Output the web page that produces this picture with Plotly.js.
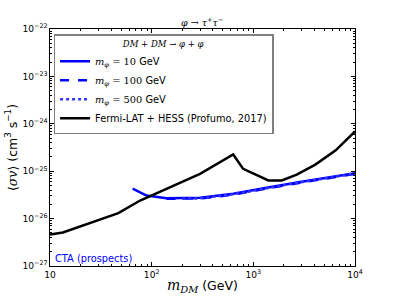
<!DOCTYPE html>
<html>
<head>
<meta charset="utf-8">
<script src="https://cdn.plot.ly/plotly-3.0.1.min.js"></script>
<style>html,body{margin:0;padding:0;background:#fff}#chart{width:395px;height:296px}</style>
</head>
<body>
<div id="chart"></div>
<script>
// Fermi-LAT + HESS (Profumo, 2017)
const fermiMass = [10, 13.4, 47, 77, 299, 634, 794, 1000, 1406, 1905, 2673, 4074, 6457, 10000];
const fermiSigv = [4.6e-27, 5.1e-27, 1.3e-26, 2.41e-26, 8.8e-26, 2.25e-25, 1.12e-25, 8.8e-26, 6.37e-26, 6.37e-26, 8.5e-26, 1.38e-25, 2.75e-25, 6.9e-25];
// m_phi = 10 GeV
const m10Mass = [65, 89, 140, 200, 300, 634, 1000, 1349, 2884, 5000, 10000];
const m10Sigv = [4.27e-26, 3.07e-26, 2.69e-26, 2.68e-26, 2.75e-26, 3.33e-26, 3.9e-26, 4.47e-26, 5.9e-26, 7.2e-26, 9.1e-26];
// m_phi = 100 GeV
const m100Mass = [140, 200, 300, 634, 1000, 1349, 2884, 5000, 10000];
const m100Sigv = [2.62e-26, 2.6e-26, 2.66e-26, 3.2e-26, 3.75e-26, 4.3e-26, 5.7e-26, 6.95e-26, 8.8e-26];
// m_phi = 500 GeV
const m500Mass = [200, 300, 634, 1000, 1349, 2884, 5000, 10000];
const m500Sigv = [2.62e-26, 2.68e-26, 3.25e-26, 3.8e-26, 4.35e-26, 5.8e-26, 7.05e-26, 8.95e-26];

const lbl = (m) => '<span style="font-family:DejaVu Serif"><i>m</i><sub><i>φ</i></sub> = ' + m + '</span> GeV';
const traces = [
  {x: m10Mass, y: m10Sigv, mode: 'lines', name: lbl(10), line: {color: '#0000ff', width: 2.5}},
  {x: m100Mass, y: m100Sigv, mode: 'lines', name: lbl(100), line: {color: '#0000ff', width: 2.5, dash: 'dash'}},
  {x: m500Mass, y: m500Sigv, mode: 'lines', name: lbl(500), line: {color: '#3333ff', width: 2.5, dash: 'dot'}},
  {x: fermiMass, y: fermiSigv, mode: 'lines', name: 'Fermi-LAT + HESS (Profumo, 2017)', line: {color: '#000000', width: 2.5}}
];
const axisCommon = {
  type: 'log', showgrid: false, zeroline: false, showline: true, linecolor: '#000', linewidth: 1,
  mirror: 'allticks', ticks: 'inside', ticklen: 4, tickcolor: '#000', exponentformat: 'power',
  tickfont: {family: 'DejaVu Sans', size: 7.3, color: '#000'},
  minor: {ticks: 'inside', ticklen: 2, tickcolor: '#000', showgrid: false}
};
const layout = {
  width: 395, height: 296,
  margin: {l: 50, r: 40, t: 29, b: 30},
  paper_bgcolor: '#fff', plot_bgcolor: '#fff',
  font: {family: 'DejaVu Sans', color: '#000'},
  title: {text: '<i>φ</i> → <i>τ</i><sup>+</sup><i>τ</i><sup>−</sup>', font: {family: 'DejaVu Serif', size: 9.5}, x: 0.512, xanchor: 'center', y: 0.925, yanchor: 'middle'},
  xaxis: Object.assign({}, axisCommon, {range: [1, 4], dtick: 1,
    title: {text: '<span style="font-family:DejaVu Serif;font-size:14px"><i>m</i><sub><i>DM</i></sub></span> (GeV)', font: {size: 12.5}, standoff: 2}}),
  yaxis: Object.assign({}, axisCommon, {range: [-27, -22], dtick: 1,
    title: {text: '<span style="font-family:DejaVu Serif">⟨<i>σv</i>⟩</span> (cm<sup>3</sup> s<sup>−1</sup>)', font: {size: 12.5}, standoff: 2}}),
  showlegend: true,
  legend: {x: 0.012, y: 0.978, xanchor: 'left', yanchor: 'top', bgcolor: '#fff', bordercolor: '#808080', borderwidth: 1.4,
    font: {family: 'DejaVu Sans', size: 9.8}, tracegroupgap: 0,
    title: {text: '<i>DM</i> + <i>DM</i> → <i>φ</i> + <i>φ</i>', side: 'top center', font: {family: 'DejaVu Serif', size: 8.5}}},
  annotations: [{text: 'CTA (prospects)', xref: 'paper', yref: 'paper', x: 0.01, y: 0.0, xanchor: 'left', yanchor: 'bottom', showarrow: false, font: {family: 'DejaVu Sans', size: 9.8, color: '#0000ff'}}]
};
Plotly.newPlot('chart', traces, layout, {displayModeBar: false, staticPlot: true});
</script>
</body>
</html>
